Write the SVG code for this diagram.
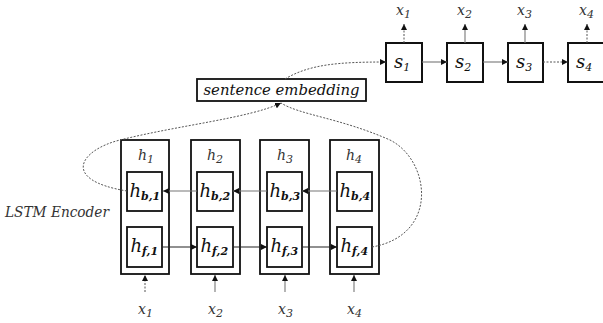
<svg xmlns="http://www.w3.org/2000/svg" width="603" height="323" viewBox="0 0 603 323">
<style>
.box{fill:#fff;stroke:#111;stroke-width:2}
.ob{fill:#fff;stroke:#111;stroke-width:1.8}
.ln{fill:none;stroke:#222;stroke-width:1.2}
.gl{fill:none;stroke:#777;stroke-width:1.1}
.dl{fill:none;stroke:#555;stroke-width:1;stroke-dasharray:2 1.5}
.m{font-family:"DejaVu Serif",serif;font-style:italic;fill:#111}
.lab{font-family:"DejaVu Serif",serif;font-style:italic;fill:#333;font-size:14px}
.sb{font-size:11px}
.hs{font-size:11px;font-weight:bold}
</style>
<defs>
<marker id="ah" viewBox="0 0 6 6" refX="6" refY="3" markerWidth="6" markerHeight="6" orient="auto" markerUnits="userSpaceOnUse"><path d="M0,0L6,3L0,6z" fill="#111"/></marker>
</defs>
<rect width="603" height="323" fill="#fff"/>
<g id="embedding">
<rect class="ob" x="197" y="79" width="169" height="22"/>
<text class="m" x="281.5" y="95" font-size="15" text-anchor="middle" textLength="156" lengthAdjust="spacingAndGlyphs">sentence embedding</text>
</g>
<g id="s1"><rect class="box" x="386" y="43" width="36" height="39"/><text class="m" x="394" y="68" font-size="18">s<tspan class="sb" font-size="12" dy="3">1</tspan></text></g>
<g id="s2"><rect class="box" x="447" y="43" width="36" height="39"/><text class="m" x="455" y="68" font-size="18">s<tspan class="sb" font-size="12" dy="3">2</tspan></text></g>
<g id="s3"><rect class="box" x="508" y="43" width="35" height="39"/><text class="m" x="516" y="68" font-size="18">s<tspan class="sb" font-size="12" dy="3">3</tspan></text></g>
<g id="s4"><rect class="box" x="568" y="43" width="40" height="39"/><text class="m" x="576" y="68" font-size="18">s<tspan class="sb" font-size="12" dy="3">4</tspan></text></g>
<g id="xo1"><text class="lab" x="396" y="15">x<tspan class="sb" dy="3">1</tspan></text></g>
<g id="xo2"><text class="lab" x="457" y="15">x<tspan class="sb" dy="3">2</tspan></text></g>
<g id="xo3"><text class="lab" x="517" y="15">x<tspan class="sb" dy="3">3</tspan></text></g>
<g id="xo4"><text class="lab" x="579" y="15">x<tspan class="sb" dy="3">4</tspan></text></g>
<text class="lab" x="5" y="217" font-size="15" textLength="104" lengthAdjust="spacingAndGlyphs">LSTM Encoder</text>
<g id="h1">
<rect class="ob" x="121" y="140" width="48" height="134"/>
<text class="lab" x="138" y="160">h<tspan class="sb" dy="3">1</tspan></text>
<rect class="ob" x="127" y="172" width="35" height="39"/>
<text class="m" x="129.5" y="197" font-size="18">h<tspan class="hs" dy="3">b,1</tspan></text>
<rect class="ob" x="127" y="227" width="35" height="40"/>
<text class="m" x="130.5" y="252" font-size="18">h<tspan class="hs" dy="3">f,1</tspan></text>
</g>
<g id="h2">
<rect class="ob" x="191" y="140" width="49" height="134"/>
<text class="lab" x="207" y="160">h<tspan class="sb" dy="3">2</tspan></text>
<rect class="ob" x="197" y="172" width="36" height="39"/>
<text class="m" x="199.5" y="197" font-size="18">h<tspan class="hs" dy="3">b,2</tspan></text>
<rect class="ob" x="197" y="227" width="36" height="40"/>
<text class="m" x="200.5" y="252" font-size="18">h<tspan class="hs" dy="3">f,2</tspan></text>
</g>
<g id="h3">
<rect class="ob" x="260" y="140" width="49" height="134"/>
<text class="lab" x="277" y="160">h<tspan class="sb" dy="3">3</tspan></text>
<rect class="ob" x="267" y="172" width="35" height="39"/>
<text class="m" x="269.5" y="197" font-size="18">h<tspan class="hs" dy="3">b,3</tspan></text>
<rect class="ob" x="267" y="227" width="35" height="40"/>
<text class="m" x="270.5" y="252" font-size="18">h<tspan class="hs" dy="3">f,3</tspan></text>
</g>
<g id="h4">
<rect class="ob" x="330" y="140" width="49" height="134"/>
<text class="lab" x="346" y="160">h<tspan class="sb" dy="3">4</tspan></text>
<rect class="ob" x="337" y="172" width="35" height="39"/>
<text class="m" x="339.5" y="197" font-size="18">h<tspan class="hs" dy="3">b,4</tspan></text>
<rect class="ob" x="337" y="227" width="35" height="40"/>
<text class="m" x="340.5" y="252" font-size="18">h<tspan class="hs" dy="3">f,4</tspan></text>
</g>
<g id="xi1"><text class="lab" x="138" y="314">x<tspan class="sb" dy="3">1</tspan></text></g>
<g id="xi2"><text class="lab" x="208" y="314">x<tspan class="sb" dy="3">2</tspan></text></g>
<g id="xi3"><text class="lab" x="278" y="314">x<tspan class="sb" dy="3">3</tspan></text></g>
<g id="xi4"><text class="lab" x="347" y="314">x<tspan class="sb" dy="3">4</tspan></text></g>
<g id="edges">
<line class="gl" x1="197" y1="191" x2="163" y2="191" marker-end="url(#ah)"/>
<line class="gl" x1="267" y1="191" x2="233" y2="191" marker-end="url(#ah)"/>
<line class="gl" x1="337" y1="191" x2="302" y2="191" marker-end="url(#ah)"/>
<line class="ln" x1="162" y1="247" x2="197" y2="247" marker-end="url(#ah)"/>
<line class="ln" x1="233" y1="247" x2="267" y2="247" marker-end="url(#ah)"/>
<line class="ln" x1="302" y1="247" x2="337" y2="247" marker-end="url(#ah)"/>
<line class="dl" x1="145" y1="292" x2="145" y2="275" marker-end="url(#ah)"/>
<line class="gl" x1="215" y1="292" x2="215" y2="275" marker-end="url(#ah)"/>
<line class="gl" x1="285" y1="292" x2="285" y2="275" marker-end="url(#ah)"/>
<line class="gl" x1="354" y1="292" x2="354" y2="275" marker-end="url(#ah)"/>
<path class="dl" d="M127,191 C60,180 80,150 120,140 C180,125 250,118 281,103" marker-end="url(#ah)"/>
<path class="dl" d="M372,247 C440,235 430,160 390,140 C340,118 300,115 281,103"/>
<path class="dl" d="M285,79 C310,64 340,62 386,62" marker-end="url(#ah)"/>
<line class="gl" x1="422" y1="62" x2="447" y2="62" marker-end="url(#ah)"/>
<line class="gl" x1="483" y1="62" x2="508" y2="62" marker-end="url(#ah)"/>
<line class="dl" x1="543" y1="62" x2="568" y2="62" marker-end="url(#ah)"/>
<line class="dl" x1="404" y1="43" x2="404" y2="24" marker-end="url(#ah)"/>
<line class="gl" x1="465" y1="43" x2="465" y2="24" marker-end="url(#ah)"/>
<line class="gl" x1="525" y1="43" x2="525" y2="24" marker-end="url(#ah)"/>
<line class="dl" x1="587" y1="43" x2="587" y2="24" marker-end="url(#ah)"/>
</g>
</svg>
